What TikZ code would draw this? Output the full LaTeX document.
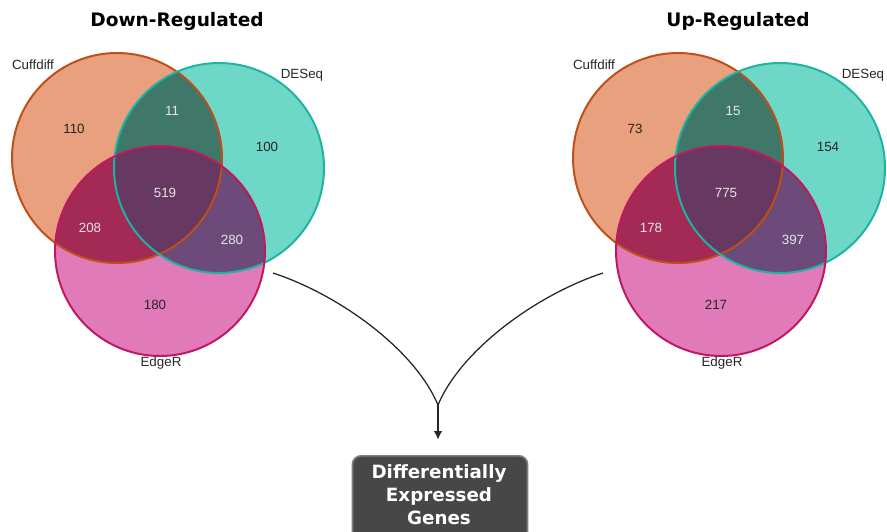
\documentclass[tikz,border=0pt]{standalone}
\usepackage{fontspec}
\setmainfont{Liberation Sans}
\newfontfamily\dejavu{DejaVu Sans}
\usetikzlibrary{arrows.meta}
\definecolor{cuffFill}{HTML}{E8A07E}
\definecolor{cuffEdge}{HTML}{C04E18}
\definecolor{deseqFill}{HTML}{6ED8C8}
\definecolor{deseqEdge}{HTML}{1FB3A3}
\definecolor{edgeFill}{HTML}{E07AB8}
\definecolor{edgeEdge}{HTML}{C01860}
\definecolor{cdFill}{HTML}{3F7868}
\definecolor{ceFill}{HTML}{A22A55}
\definecolor{deFill}{HTML}{6C4A7A}
\definecolor{cdeFill}{HTML}{663862}

\begin{document}
\begin{tikzpicture}[x=0.025cm, y=-0.025cm,
            setlabel/.style={font=\fontsize{9.5}{11}\selectfont, text=black!85},
            outnum/.style={font=\fontsize{9.5}{11}\selectfont, text=black!85},
            innum/.style={font=\fontsize{9.5}{11}\selectfont, text=white!90!black},
            heading/.style={font=\dejavu\bfseries\fontsize{13.2}{15}\selectfont},
            ring/.style={line width=1.4pt},
            flow/.style={line width=0.9pt, black!85},
            genebox/.style={fill=black!72, draw=black!50, line width=1.2pt,
              rounded corners=6pt, minimum width=4.375cm, minimum height=2.6cm},
            genetext/.style={text=white, align=center,
              font=\dejavu\bfseries\fontsize{13}{16.3}\selectfont}]
            \useasboundingbox (0,0) rectangle (887,532);
            % the two venn diagrams
            \foreach \side/\dx/\ttl/\nc/\nd/\ne/\ncd/\nce/\nde/\ncde in
                {L/0/Down-Regulated/110/100/180/11/208/280/519,
                 R/561/Up-Regulated/73/154/217/15/178/397/775} {
              \begin{scope}[xshift=\dx*0.025cm]
                \coordinate (cuff\side)  at (117,158);
                \coordinate (deseq\side) at (219,168);
                \coordinate (edge\side)  at (160,251);
                \fill[cuffFill]  (cuff\side)  circle[radius=105];
                \fill[deseqFill] (deseq\side) circle[radius=105];
                \fill[edgeFill]  (edge\side)  circle[radius=105];
                \begin{scope}
                  \clip (deseq\side) circle[radius=105];
                  \fill[deFill] (edge\side) circle[radius=105];
                \end{scope}
                \begin{scope}
                  \clip (cuff\side) circle[radius=105];
                  \fill[cdFill] (deseq\side) circle[radius=105];
                  \fill[ceFill] (edge\side) circle[radius=105];
                  \clip (deseq\side) circle[radius=105];
                  \fill[cdeFill] (edge\side) circle[radius=105];
                \end{scope}
                \draw[ring, cuffEdge]  (cuff\side)  circle[radius=105];
                \draw[ring, deseqEdge] (deseq\side) circle[radius=105];
                \draw[ring, edgeEdge]  (edge\side)  circle[radius=105];
                \node[heading]  (title\side)    at (177,21)  {\ttl};
                \node[setlabel] (cufflbl\side)  at (33,65)   {Cuffdiff};
                \node[setlabel] (deseqlbl\side) at (302,75)  {DESeq};
                \node[setlabel] (edgelbl\side)  at (161,363) {EdgeR};
                \node[outnum] (c\side)   at (74,129)  {\nc};
                \node[outnum] (d\side)   at (267,147) {\nd};
                \node[outnum] (e\side)   at (155,305) {\ne};
                \node[innum]  (cd\side)  at (172,111) {\ncd};
                \node[innum]  (ce\side)  at (90,228)  {\nce};
                \node[innum]  (de\side)  at (232,240) {\nde};
                \node[innum]  (cde\side) at (165,193) {\ncde};
              \end{scope}
            }
            % merging into the result
            \coordinate (fromdown) at (273,273);
            \coordinate (fromup)   at (603,273);
            \coordinate (merge)    at (438,405);
            \node[genebox, anchor=north] (deg) at (440,455) {};
            \node[genetext] (degtext) at (439,495) {Differentially\\Expressed\\Genes};
            \draw[flow] (fromdown) .. controls (340,295) and (415,350) .. (merge);
            \draw[flow] (fromup) .. controls (536,295) and (461,350) .. (merge);
            \draw[flow, -{Latex[length=6pt,width=6pt]}, shorten >=11pt]
                        (merge) -- (merge |- deg.north);
        \end{tikzpicture}
\end{document}
